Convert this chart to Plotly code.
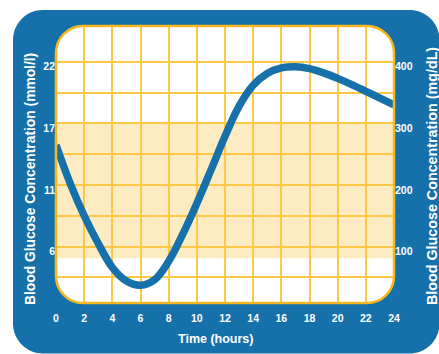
import plotly.graph_objects as go

# ---- data ----
hours = list(range(0, 25))
glucose_mgdl = [265, 203, 150, 105, 66, 44, 37, 46, 76, 120, 170, 224, 279,
                328, 362, 381, 390, 392, 389, 382, 373, 363, 352, 341, 330]
x_ticks = list(range(0, 25, 2))
y_grid = [50, 100, 150, 200, 250, 300, 350, 400]
left_labels = ["", "6", "", "11", "", "17", "", "22"]
right_vals = [100, 200, 300, 400]
right_labels = ["100", "200", "300", "400"]
band_range = [81, 300]

BLUE = "#1670A9"
BORDER = "#F7B71E"
GRID = "#FDC846"
BAND = "#FDEBC2"
FONT = "Liberation Sans"

W, H = 439, 354
L, R, T, B = 56, 45, 26, 51
PW, PH = W - L - R, H - T - B


def px(xp, yp):
    return (xp - L) / PW, (H - B - yp) / PH


def fmt(pt):
    return f"{pt[0]:.5f},{pt[1]:.5f}"


def rounded_rect(x0, y0, x1, y1, r):
    k = 0.5523 * r
    p = [
        "M", fmt(px(x0 + r, y0)),
        "L", fmt(px(x1 - r, y0)),
        "C", fmt(px(x1 - r + k, y0)), fmt(px(x1, y0 + r - k)), fmt(px(x1, y0 + r)),
        "L", fmt(px(x1, y1 - r)),
        "C", fmt(px(x1, y1 - r + k)), fmt(px(x1 - r + k, y1)), fmt(px(x1 - r, y1)),
        "L", fmt(px(x0 + r, y1)),
        "C", fmt(px(x0 + r - k, y1)), fmt(px(x0, y1 - r + k)), fmt(px(x0, y1 - r)),
        "L", fmt(px(x0, y0 + r)),
        "C", fmt(px(x0, y0 + r - k)), fmt(px(x0 + r - k, y0)), fmt(px(x0 + r, y0)),
        "Z",
    ]
    return " ".join(p)


def corner_mask(cx, cy, sx, sy, r):
    k = 0.5523 * r
    p = [
        "M", fmt(px(cx - sx, cy - sy)),
        "L", fmt(px(cx - sx, cy + sy * r)),
        "L", fmt(px(cx, cy + sy * r)),
        "C", fmt(px(cx, cy + sy * (r - k))), fmt(px(cx + sx * (r - k), cy)), fmt(px(cx + sx * r, cy)),
        "L", fmt(px(cx + sx * r, cy - sy)),
        "Z",
    ]
    return " ".join(p)


fig = go.Figure()
fig.add_trace(go.Scatter(
    x=hours, y=glucose_mgdl, mode="lines",
    line=dict(color=BLUE, width=7.5, shape="spline", smoothing=1.0),
    hoverinfo="skip", showlegend=False,
))
# empty trace so the right-hand (mg/dL) axis is drawn
fig.add_trace(go.Scatter(x=[None], y=[None], yaxis="y2", mode="lines",
                         hoverinfo="skip", showlegend=False))

x0p, y0p, x1p, y1p = L, T, W - R, H - B
RC = 27
shapes = [
    dict(type="path", xref="paper", yref="paper", layer="below",
         path=rounded_rect(13, 10, 439.5, 353.5, 30), fillcolor=BLUE, line=dict(width=0)),
    dict(type="path", xref="paper", yref="paper", layer="below",
         path=rounded_rect(x0p, y0p, x1p, y1p, RC), fillcolor="white", line=dict(width=0)),
    dict(type="rect", xref="paper", yref="y", layer="below",
         x0=0, x1=1, y0=band_range[0], y1=band_range[1], fillcolor=BAND, line=dict(width=0)),
]
for cx, cy, sx, sy in [(x0p, y0p, 1, 1), (x1p, y0p, -1, 1), (x0p, y1p, 1, -1), (x1p, y1p, -1, -1)]:
    shapes.append(dict(type="path", xref="paper", yref="paper", layer="above",
                       path=corner_mask(cx, cy, sx, sy, RC), fillcolor=BLUE, line=dict(width=0)))
shapes.append(dict(type="path", xref="paper", yref="paper", layer="above",
                   path=rounded_rect(x0p, y0p, x1p, y1p, RC), fillcolor="rgba(0,0,0,0)",
                   line=dict(color=BORDER, width=2.5)))

tickfont = dict(family=FONT, size=10.5, color="white", weight="bold")
yr = [8.3, 458.1]

fig.update_layout(
    width=W, height=H, autosize=False,
    margin=dict(l=L, r=R, t=T, b=B, pad=0),
    paper_bgcolor="white", plot_bgcolor="white",
    shapes=shapes,
    xaxis=dict(range=[0, 24], tickmode="array", tickvals=x_ticks,
               ticktext=[str(v) for v in x_ticks],
               showgrid=True, gridcolor=GRID, gridwidth=2, zeroline=False,
               showline=False, ticks="outside", ticklen=5, tickcolor="rgba(0,0,0,0)",
               tickfont=tickfont, fixedrange=True),
    yaxis=dict(range=yr, tickmode="array", tickvals=y_grid, ticktext=left_labels,
               showgrid=True, gridcolor=GRID, gridwidth=2, zeroline=False,
               showline=False, ticks="", tickfont=tickfont, ticklabelshift=5,
               fixedrange=True),
    yaxis2=dict(range=yr, overlaying="y", side="right", anchor="x",
                tickmode="array", tickvals=right_vals, ticktext=right_labels,
                showgrid=False, zeroline=False, showline=False, ticks="",
                tickfont=tickfont, ticklabelshift=5, fixedrange=True),
    annotations=[
        dict(text="Blood Glucose Concentration (mmol/l)", xref="paper", yref="paper",
             x=(30 - L) / PW, y=(H - B - 307) / PH, xanchor="center", yanchor="bottom",
             textangle=-90, showarrow=False,
             font=dict(family=FONT, size=13.8, color="white", weight="bold")),
        dict(text="Blood Glucose Concentration (mg/dL)", xref="paper", yref="paper",
             x=(432 - L) / PW, y=(H - B - 307) / PH, xanchor="center", yanchor="bottom",
             textangle=-90, showarrow=False,
             font=dict(family=FONT, size=14.3, color="white", weight="bold")),
        dict(text="Time (hours)", xref="paper", yref="paper",
             x=(215 - L) / PW, y=(H - B - 339) / PH, xanchor="center", yanchor="middle",
             showarrow=False,
             font=dict(family=FONT, size=12.5, color="white", weight="bold")),
    ],
)

fig.write_html("out.html", config={"displayModeBar": False},
               post_script="document.body.style.margin='0';document.body.style.overflow='hidden';")
